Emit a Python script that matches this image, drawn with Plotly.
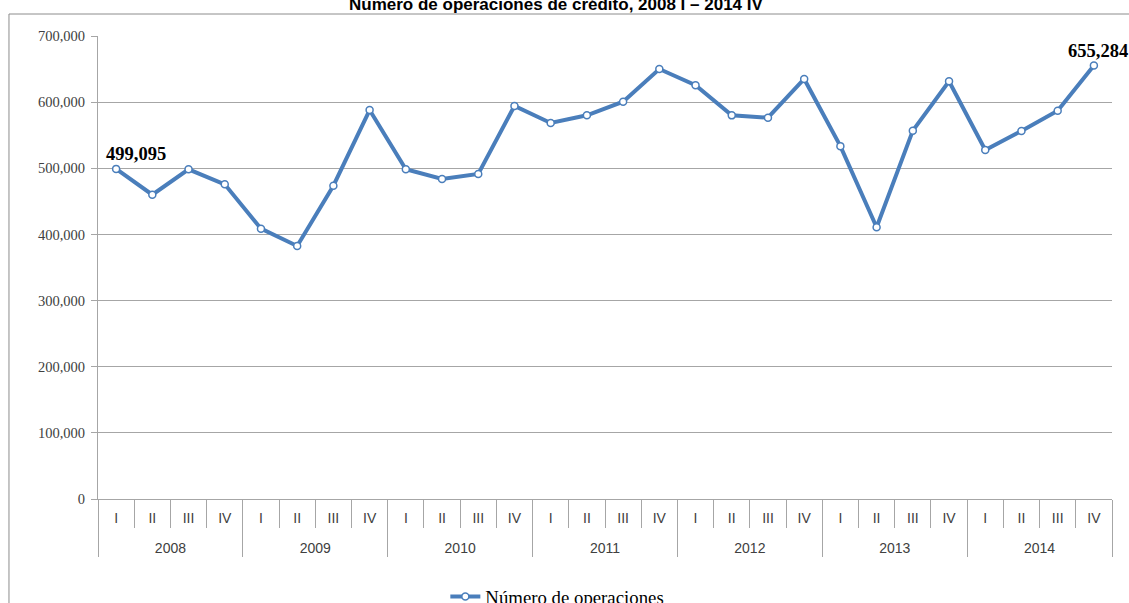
import plotly.graph_objects as go

years = ["2008", "2009", "2010", "2011", "2012", "2013", "2014"]
quarters = ["I", "II", "III", "IV"]
operaciones = [
    499095, 460000, 498500, 475800,
    408700, 382500, 473700, 588000,
    498500, 483800, 491400, 594200,
    568500, 580100, 600700, 650100,
    625500, 580000, 576500, 635000,
    533500, 410800, 556900, 631500,
    527700, 556400, 587100, 655284,
]
series_name = "Número de operaciones"
title_text = "Número de operaciones de crédito, 2008 I – 2014 IV"

x_outer = ["&nbsp;<br>" + y for y in years for _ in quarters]
x_inner = [q for _ in years for q in quarters]

BLUE = "#4A7EBB"
GRID = "#A6A6A6"

fig = go.Figure()
fig.add_trace(go.Scatter(
    x=[x_outer, x_inner],
    y=operaciones,
    mode="lines+markers",
    name=series_name,
    line=dict(color=BLUE, width=4),
    marker=dict(symbol="circle", size=7, color="white",
                line=dict(color=BLUE, width=1.5)),
))

# data labels on first and last points
first_i, last_i = 0, len(operaciones) - 1
for idx, xs in [(first_i, 20), (last_i, 4)]:
    fig.add_annotation(
        x=idx, y=operaciones[idx], xref="x", yref="y",
        text=f"<b>{operaciones[idx]:,}</b>", showarrow=False,
        yanchor="bottom", xanchor="center", xshift=xs, yshift=3,
        font=dict(family="Liberation Serif", size=18.5, color="black"),
    )

# chart title (partly above the visible page, as in the reference)
fig.add_annotation(
    x=0.452, y=(499 - 16) / 463, xref="paper", yref="paper",
    text=f"<b>{title_text}</b>", showarrow=False,
    xanchor="center", yanchor="bottom",
    font=dict(family="Liberation Sans", size=17, color="black"),
)

# outer chart frame (left and top edges)
fig.add_shape(type="path", xref="paper", yref="paper",
              path="M -0.0878,-0.3 L -0.0878,1.0475 L 1.2,1.0475",
              line=dict(color="#8C8C8C", width=1))

fig.update_layout(
    width=1129, height=603,
    margin=dict(l=98, r=17, t=36, b=104, autoexpand=False),
    paper_bgcolor="white", plot_bgcolor="white",
    showlegend=True,
    legend=dict(orientation="h", x=0.453, xanchor="center", y=-0.211,
                yanchor="middle",
                font=dict(family="Liberation Serif", size=18.8, color="black")),
    yaxis=dict(range=[0, 700000], dtick=100000, tickformat=",",
               showgrid=True, gridcolor=GRID, gridwidth=1,
               showline=True, linecolor=GRID, linewidth=1,
               ticks="outside", ticklen=6, tickcolor=GRID,
               zeroline=False, automargin=False, ticklabelstandoff=3,
               tickfont=dict(family="Liberation Serif", size=14.5, color="#404040")),
    xaxis=dict(type="multicategory", range=[-0.5, 27.5],
               showline=True, linecolor=GRID, automargin=False,
               ticks="outside", tickson="boundaries", ticklen=28,
               tickcolor=GRID, showdividers=True, dividercolor=GRID,
               dividerwidth=1, showgrid=False, ticklabelstandoff=6,
               tickfont=dict(family="Liberation Sans", size=14, color="#404040")),
)

fig.write_html("out.html", config={"displayModeBar": False},
               post_script="document.body.style.margin='0px';")
